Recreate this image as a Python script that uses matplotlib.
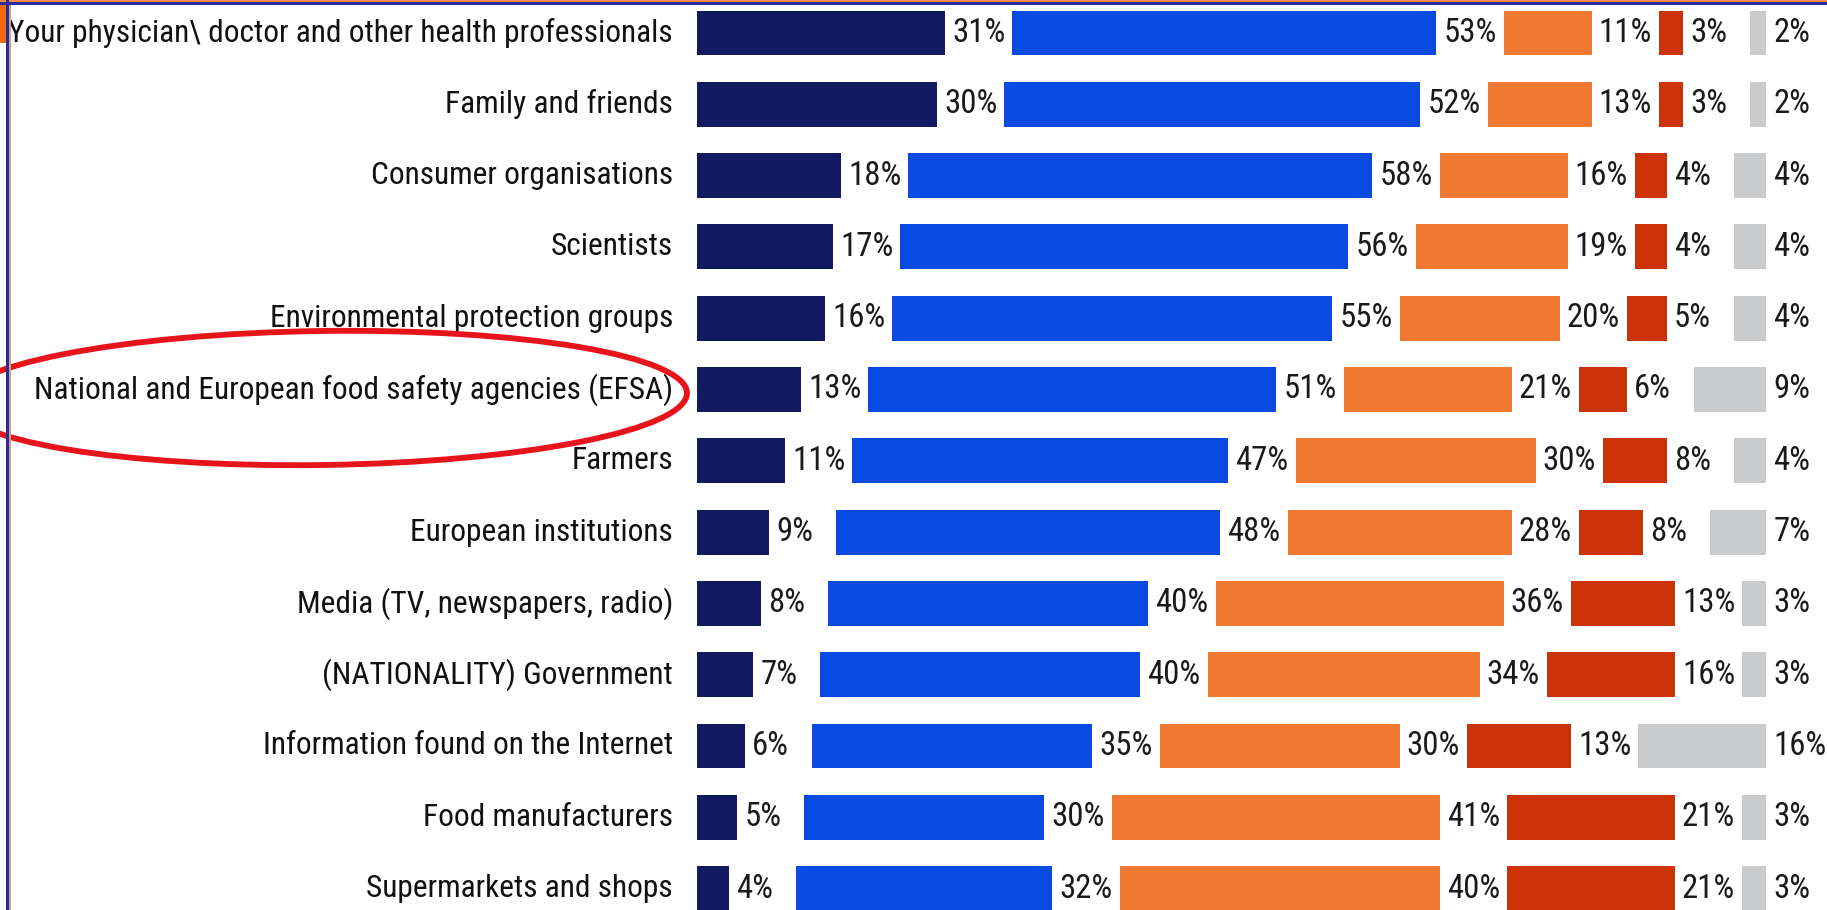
import matplotlib
matplotlib.use("Agg")
import matplotlib.pyplot as plt
from matplotlib import font_manager as fm
from matplotlib.font_manager import FontProperties
from matplotlib.patches import Rectangle, Ellipse
import numpy as np

categories = [
    "Your physician\\ doctor and other health professionals",
    "Family and friends",
    "Consumer organisations",
    "Scientists",
    "Environmental protection groups",
    "National and European food safety agencies (EFSA)",
    "Farmers",
    "European institutions",
    "Media (TV, newspapers, radio)",
    "(NATIONALITY) Government",
    "Information found on the Internet",
    "Food manufacturers",
    "Supermarkets and shops",
]
trust_totally = [31, 30, 18, 17, 16, 13, 11, 9, 8, 7, 6, 5, 4]
trust_somewhat = [53, 52, 58, 56, 55, 51, 47, 48, 40, 40, 35, 30, 32]
distrust_somewhat = [11, 13, 16, 19, 20, 21, 30, 28, 36, 34, 30, 41, 40]
distrust_totally = [3, 3, 4, 4, 5, 6, 8, 8, 13, 16, 13, 21, 21]
dont_know = [2, 2, 4, 4, 4, 9, 4, 7, 3, 3, 16, 3, 3]

series = [trust_totally, trust_somewhat, distrust_somewhat, distrust_totally, dont_know]
colors = ["#111a5e", "#0a4ae0", "#f07a32", "#cc3308", "#c9cbcd"]


def pick_font():
    entries = [f for f in fm.fontManager.ttflist
               if f.style == "normal" and str(f.weight) in ("400", "normal", "regular", "book")]
    prefs = ["Liberation Sans Narrow", "Arial Narrow", "Roboto Condensed",
             "Open Sans Condensed", "Noto Sans", "DejaVu Sans", "Open Sans", "Lato", "Inter"]
    narrow = [f for f in entries
              if ("Narrow" in f.name or "Condensed" in f.name
                  or str(f.stretch) in ("semi-condensed", "condensed", "extra-condensed"))
              and "Mono" not in f.name and "Serif" not in f.name and "Bold" not in f.fname]
    for p in prefs:
        for f in narrow:
            if f.name == p:
                return f.fname
    if narrow:
        return narrow[0].fname
    return None


fpath = pick_font()
if fpath:
    base_fp = FontProperties(fname=fpath)
else:
    base_fp = FontProperties(family=["Liberation Sans", "DejaVu Sans"])

W, H = 1827, 910
fig = plt.figure(figsize=(W / 100, H / 100), dpi=100)
fig.patch.set_facecolor("white")
renderer = fig.canvas.get_renderer()

# size fonts so the longest label spans the same width as in the reference
probe_fp = base_fp.copy()
probe_fp.set_size(20)
probe = fig.text(0, 0, categories[0], fontproperties=probe_fp)
wpx = probe.get_window_extent(renderer).width
probe.remove()
cat_size = min(20 * 663 / wpx, 25.5)
probe = fig.text(0, 0, "31%", fontproperties=probe_fp)
wpx = probe.get_window_extent(renderer).width
probe.remove()
pct_size = min(20 * 53 / wpx, 25.5)
pct_size = max(pct_size, cat_size)

cat_fp = base_fp.copy()
cat_fp.set_size(cat_size)
pct_fp = base_fp.copy()
pct_fp.set_size(pct_size)

px_per_unit = 8.0
left_px = 697
gap = 67.25 / px_per_unit
row0 = 33.0
pitch = 71.3

ax = fig.add_axes([left_px / W, 0, 1 - left_px / W, 1])
ax.set_xlim(0, (W - left_px) / px_per_unit)
ax.set_ylim((H - row0) / pitch, -row0 / pitch)
ax.axis("off")

n = len(categories)
y = np.arange(n)
start = np.zeros(n)
for vals, col in zip(series, colors):
    vals = np.array(vals, dtype=float)
    ax.barh(y, vals, left=start, height=0.63, color=col, edgecolor="none")
    for yi, s, v in zip(y, start, vals):
        ax.text(s + v + 0.9, yi, f"{int(v)}%", va="center", ha="left",
                fontproperties=pct_fp, color="#1a1a1a")
    start = start + vals + gap

for yi, c in zip(y, categories):
    ax.text(-24 / px_per_unit, yi, c, va="center", ha="right",
            fontproperties=cat_fp, color="#111111", clip_on=False)

# Red ellipse highlight (in inches, so the rotation is undistorted)
ell = Ellipse((3.22, (H - 398) / 100), 7.3, 1.34, angle=0.8,
              transform=fig.dpi_scale_trans,
              fill=False, edgecolor="#e8141c", linewidth=4.2)
fig.add_artist(ell)

# frame decorations
fig.add_artist(Rectangle((0, 1 - 43 / H), 6 / W, 43 / H, transform=fig.transFigure,
                         facecolor="#f26a10", edgecolor="none"))
fig.add_artist(Rectangle((0, 1 - 1.5 / H), 1, 1.5 / H, transform=fig.transFigure,
                         facecolor="#f08a40", edgecolor="none"))
fig.add_artist(Rectangle((0, 1 - 4.5 / H), 1, 3 / H, transform=fig.transFigure,
                         facecolor="#2a2aa0", edgecolor="none"))
fig.add_artist(Rectangle((6 / W, 0), 3 / W, 1, transform=fig.transFigure,
                         facecolor="#2a2aa0", edgecolor="none"))
fig.add_artist(Rectangle((9 / W, 0), 2 / W, 1 - 4.5 / H, transform=fig.transFigure,
                         facecolor="#c8a878", edgecolor="none"))

fig.savefig("out.png", dpi=100, facecolor="white")
